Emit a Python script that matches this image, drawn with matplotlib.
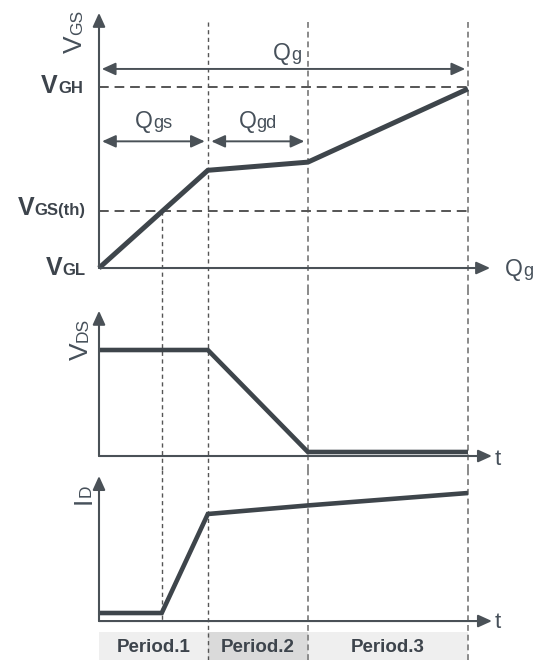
import matplotlib
matplotlib.use('Agg')
import matplotlib.pyplot as plt

# breakpoints on the charge / time axis (arbitrary units)
t_th = 1.7          # V_GS crosses threshold
t_edges = [0, 2.95, 5.66, 10.0]   # start, end of Qgs, end of Qgd, end of Qg

# gate voltage vs charge
q_gate = [0, 2.95, 5.66, 10.0]
v_gate = [0, 5.4, 5.85, 9.9]
v_gh = 10.0
v_th = 3.15

# drain-source voltage
t_vds = [0, 2.95, 5.66, 10.0]
v_ds = [10.0, 10.0, 0.38, 0.38]

# drain current
t_id = [0, 1.7, 2.95, 5.66, 10.0]
i_d = [0.75, 0.75, 10.0, 10.8, 11.96]

periods = ['Period.1', 'Period.2', 'Period.3']
period_colors = ['#efefef', '#dadada', '#efefef']

DARK = '#3e454b'
AXC = '#4a5157'
TXT = '#3d444c'
QTXT = '#46505a'
FONT = 'Liberation Sans'

fig = plt.figure(figsize=(5.43, 6.6), dpi=100)
r = fig.canvas.get_renderer()

XL = (-2.683, 12.033)
ax1 = fig.add_axes([0, 1 - 290 / 660, 1, 290 / 660])
ax2 = fig.add_axes([0, 1 - 470 / 660, 1, 180 / 660])
ax3 = fig.add_axes([0, 0, 1, 190 / 660])
ax1.set_ylim(-1.215, 14.81)
ax2.set_ylim(-1.32, 15.66)
ax3.set_ylim(-3.64, 14.11)
for ax in (ax1, ax2, ax3):
    ax.set_xlim(*XL)
    ax.axis('off')


def arrow(ax, p0, p1, style='-|>', lw=1.5, shrink=0):
    ax.annotate('', xy=p1, xytext=p0,
                arrowprops=dict(arrowstyle=style + ',head_length=0.55,head_width=0.25',
                                color=AXC, lw=lw, mutation_scale=15,
                                shrinkA=shrink, shrinkB=shrink))


def label(ax, x, y, main, sub, size, subsize, ha='left', rot=0, color=TXT, **kw):
    kw = dict(color=color, family=FONT, **kw)
    widths = []
    for s, fs in ((main, size), (sub, subsize)):
        t = ax.text(0, 0, s, fontsize=fs, **kw)
        widths.append(t.get_window_extent(r).width * 72 / fig.dpi)
        t.remove()
    total = sum(widths)
    start = {'left': 0, 'center': -total / 2, 'right': -total}[ha]
    offs = [start, start + widths[0]]
    for s, fs, o in zip((main, sub), (size, subsize), offs):
        d = (o, 0) if rot == 0 else (0, o)
        ax.annotate(s, (x, y), xytext=d, textcoords='offset points',
                    fontsize=fs, rotation=rot, rotation_mode='anchor',
                    ha='left', va='baseline', **kw)


thin = dict(color='#555555', lw=1.0, linestyle=(0, (3, 2.5)))
grey = dict(color='#8a8a8a', lw=1.4, linestyle=(0, (3, 2)))
hdash = dict(color='#555555', lw=1.4, linestyle=(0, (5, 3)))

# ---- top panel: V_GS vs Qg ----
ax1.plot([t_th, t_th], [v_th, ax1.get_ylim()[0]], **thin)
ax1.plot([t_edges[1]] * 2, [13.6, ax1.get_ylim()[0]], **thin)
for x in t_edges[2:]:
    ax1.plot([x, x], [13.6, ax1.get_ylim()[0]], **grey)
ax1.plot([0, t_edges[3]], [v_gh, v_gh], **hdash)
ax1.plot([0, t_edges[3]], [v_th, v_th], **hdash)
arrow(ax1, (0, 0), (0, 14.1))
arrow(ax1, (0, 0), (10.6, 0))
ax1.plot(q_gate, v_gate, color=DARK, lw=3.6, solid_joinstyle='miter', solid_capstyle='butt')

arrow(ax1, (t_edges[0], 11.0), (t_edges[3], 11.0), style='<|-|>', lw=1.4, shrink=2)
arrow(ax1, (t_edges[0], 7.0), (t_edges[1], 7.0), style='<|-|>', lw=1.4, shrink=2.2)
arrow(ax1, (t_edges[1], 7.0), (t_edges[2], 7.0), style='<|-|>', lw=1.4, shrink=2.5)

label(ax1, 5.1, 11.5, 'Q', 'g', 16.5, 13, ha='center', color=QTXT)
label(ax1, t_edges[1] / 2, 7.73, 'Q', 'gs', 16.5, 13, ha='center', color=QTXT)
label(ax1, (t_edges[1] + t_edges[2]) / 2, 7.73, 'Q', 'gd', 16.5, 13, ha='center', color=QTXT)
label(ax1, 11.0, -0.44, 'Q', 'g', 16.5, 13, color=QTXT)
label(ax1, -0.46, 11.88, 'V', 'GS', 19, 12.5, rot=90, color=QTXT)
label(ax1, -0.44, 9.67, 'V', 'GH', 18, 12, ha='right', fontweight='bold')
label(ax1, -0.38, 2.93, 'V', 'GS(th)', 18, 12, ha='right', fontweight='bold')
label(ax1, -0.36, -0.39, 'V', 'GL', 18, 12, ha='right', fontweight='bold')

# ---- middle panel: V_DS vs t ----
ax2.axvline(t_th, **thin)
ax2.axvline(t_edges[1], **thin)
for x in t_edges[2:]:
    ax2.axvline(x, **grey)
arrow(ax2, (0, 0), (0, 13.7))
arrow(ax2, (0, 0), (10.65, 0))
ax2.plot(t_vds, v_ds, color=DARK, lw=3.3, solid_joinstyle='miter', solid_capstyle='butt')
label(ax2, -0.30, 9.06, 'V', 'DS', 19, 12.5, rot=90, color=QTXT)
ax2.text(10.73, -0.85, 't', fontsize=16, color=QTXT, family=FONT, va='baseline')

# ---- bottom panel: I_D vs t ----
ax3.plot([t_th, t_th], [ax3.get_ylim()[1], 0], **thin)
ax3.plot([t_edges[1]] * 2, ax3.get_ylim(), **thin)
for x in t_edges[2:]:
    ax3.plot([x, x], ax3.get_ylim(), **grey)
lefts = t_edges[:-1]
widths = [b - a for a, b in zip(t_edges[:-1], t_edges[1:])]
ax3.bar(lefts, [2.7] * 3, width=widths, bottom=-3.73, align='edge',
        color=period_colors, zorder=0)
for a, w, name in zip(lefts, widths, periods):
    ax3.text(a + w / 2, -2.43, name, fontsize=13.5, fontweight='bold', color=TXT,
             family=FONT, ha='center', va='center')
arrow(ax3, (0, 0), (0, 13.55))
arrow(ax3, (0, 0), (10.65, 0))
ax3.plot(t_id, i_d, color=DARK, lw=3.3, solid_joinstyle='miter', solid_capstyle='butt')
label(ax3, -0.22, 10.93, 'I', 'D', 19, 12.5, rot=90, color=QTXT)
ax3.text(10.73, -0.65, 't', fontsize=16, color=QTXT, family=FONT, va='baseline')

fig.savefig('out.png', dpi=100)
